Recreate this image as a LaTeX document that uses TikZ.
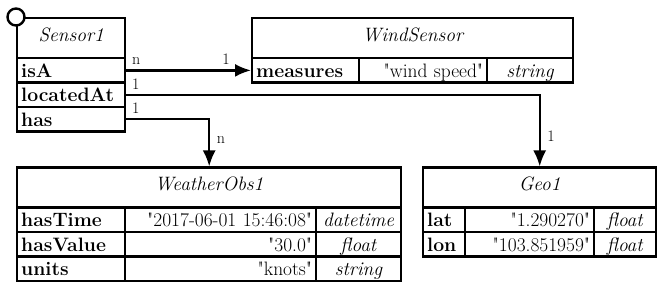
\documentclass[tikz,border=0pt]{standalone}
\usepackage{fontspec}
\usepackage{tikz}
\usetikzlibrary{arrows.meta}

\newcommand\cellfont{\fontsize{19.4}{23}\selectfont}
\newcommand\qv[1]{\textquotedbl#1\textquotedbl}
\tikzset{
  cell/.style={draw, line width=2.4pt, anchor=north west, inner xsep=4pt, inner ysep=0pt,
    minimum height=24.4pt, text height=15pt, text depth=1pt, font=\cellfont},
  head/.style={cell, minimum height=40pt, align=center, text height=12pt, text depth=6pt,
    font=\cellfont\itshape},
  conn/.style={line width=2.4pt, -{Latex[length=16pt,width=13pt]}},
  card/.style={font=\fontsize{16}{18}\selectfont, inner sep=4.5pt},
}

\begin{document}
\begin{tikzpicture}[x=1pt,y=-1pt]
\useasboundingbox (0,0) rectangle (664,288);

% Sensor1
\node[head, text width=100pt] (s1) at (16,17) {Sensor1};
\node[cell, text width=100pt, align=left] (s1-isA) at (16,57) {\textbf{isA}};
\node[cell, text width=100pt, align=left] (s1-loc) at (16,81.4) {\textbf{locatedAt}};
\node[cell, text width=100pt, align=left] (s1-has) at (16,105.8) {\textbf{has}};
\node[circle, draw, line width=2.4pt, fill=white, minimum size=17pt, inner sep=0pt] (s1-dot) at (16,17) {};

% WindSensor
\node[head, text width=313pt] (ws) at (251,17) {WindSensor};
\node[cell, text width=99pt, align=left] (ws-k) at (251,57) {\textbf{measures}};
\node[cell, text width=120pt, align=right] (ws-v) at (358,57) {\qv{wind speed}};
\node[cell, text width=78pt, align=center] (ws-t) at (486,57) {\textit{string}};

% WeatherObs1
\node[head, text width=376pt] (wo) at (16,166.5) {WeatherObs1};
\foreach \k/\v/\t [count=\i from 0] in {hasTime/2017-06-01~15:46:08/datetime,
    hasValue/30.0/float, units/knots/string} {
  \node[cell, text width=100pt, align=left] (wo-k\i) at (16,{206.5+24.4*\i}) {\textbf{\k}};
  \node[cell, text width=183pt, align=right] (wo-v\i) at (124,{206.5+24.4*\i}) {\qv{\v}};
  \node[cell, text width=77pt, align=center] (wo-t\i) at (315,{206.5+24.4*\i}) {\textit{\t}};
}

% Geo1
\node[head, text width=225pt] (geo) at (422,166.5) {Geo1};
\foreach \k/\v [count=\i from 0] in {lat/1.290270, lon/103.851959} {
  \node[cell, text width=34pt, align=left] (geo-k\i) at (422,{206.5+24.4*\i}) {\textbf{\k}};
  \node[cell, text width=121pt, align=right] (geo-v\i) at (464,{206.5+24.4*\i}) {\qv{\v}};
  \node[cell, text width=54pt, align=center] (geo-t\i) at (593,{206.5+24.4*\i}) {\textit{float}};
}

% links
\draw[conn] (s1-isA.east) -- node[card, pos=0, above right] {n} node[card, pos=0.8, above] {1} (ws-k.west);
\draw[conn] (s1-loc.east) -| node[card, pos=0, above right] {1} node[card, pos=0.79, right, xshift=2pt] {1} (geo.north);
\draw[conn] (s1-has.east) -| node[card, pos=0, above right] {1} node[card, pos=0.72, right, xshift=2pt] {n} (wo.north);
\end{tikzpicture}
\end{document}
